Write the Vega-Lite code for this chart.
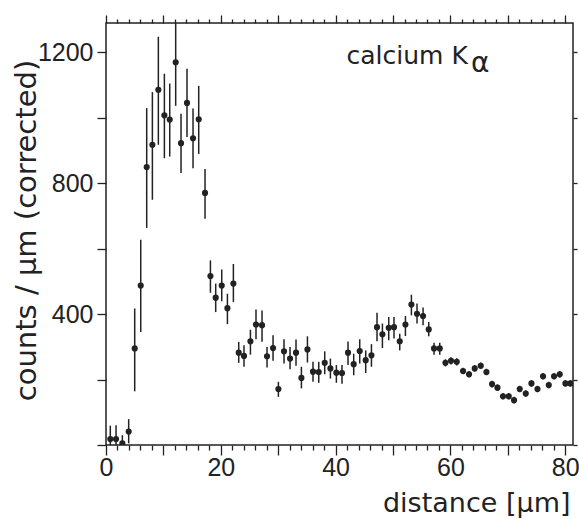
{
  "$schema": "https://vega.github.io/schema/vega-lite/v6.json",
  "width": 467,
  "height": 422,
  "autosize": {"type": "none"},
  "padding": {"left": 106, "top": 23, "right": 6, "bottom": 74},
  "background": "white",
  "config": {
    "view": {"stroke": "#222", "strokeWidth": 1.5},
    "axis": {"domain": false, "grid": false, "ticks": true, "tickColor": "#222", "tickWidth": 1.3, "labelColor": "#222", "titleColor": "#222", "labelFont": "Liberation Sans", "titleFont": "DejaVu Sans", "titleFontWeight": "normal"}
  },
  "data": {"values": [
    {"x": 0.75, "y": 18, "lo": 0, "hi": 59},
    {"x": 1.75, "y": 18, "lo": 0, "hi": 60},
    {"x": 2.85, "y": 5, "lo": 0, "hi": 30},
    {"x": 3.95, "y": 41, "lo": 5, "hi": 79},
    {"x": 5.0, "y": 295, "lo": 164, "hi": 417},
    {"x": 6.05, "y": 487, "lo": 345, "hi": 627},
    {"x": 7.09, "y": 849, "lo": 663, "hi": 1029},
    {"x": 8.08, "y": 917, "lo": 749, "hi": 1078},
    {"x": 9.12, "y": 1085, "lo": 917, "hi": 1247},
    {"x": 10.17, "y": 1007, "lo": 876, "hi": 1134},
    {"x": 11.1, "y": 994, "lo": 881, "hi": 1104},
    {"x": 12.14, "y": 1169, "lo": 1036, "hi": 1289},
    {"x": 13.07, "y": 922, "lo": 831, "hi": 1012},
    {"x": 14.11, "y": 1045, "lo": 941, "hi": 1149},
    {"x": 15.16, "y": 937, "lo": 845, "hi": 1028},
    {"x": 16.15, "y": 995, "lo": 889, "hi": 1097},
    {"x": 17.25, "y": 770, "lo": 691, "hi": 843},
    {"x": 18.19, "y": 516, "lo": 465, "hi": 564},
    {"x": 19.11, "y": 450, "lo": 406, "hi": 493},
    {"x": 20.16, "y": 487, "lo": 439, "hi": 536},
    {"x": 21.15, "y": 418, "lo": 369, "hi": 462},
    {"x": 22.19, "y": 493, "lo": 437, "hi": 553},
    {"x": 23.12, "y": 282, "lo": 251, "hi": 315},
    {"x": 24.04, "y": 272, "lo": 239, "hi": 305},
    {"x": 25.16, "y": 317, "lo": 276, "hi": 352},
    {"x": 26.13, "y": 368, "lo": 323, "hi": 414},
    {"x": 27.18, "y": 366, "lo": 315, "hi": 411},
    {"x": 28.05, "y": 271, "lo": 237, "hi": 299},
    {"x": 29.1, "y": 296, "lo": 257, "hi": 335},
    {"x": 30.03, "y": 171, "lo": 147, "hi": 193},
    {"x": 31.01, "y": 286, "lo": 249, "hi": 323},
    {"x": 32.06, "y": 264, "lo": 231, "hi": 299},
    {"x": 33.1, "y": 282, "lo": 242, "hi": 322},
    {"x": 34.04, "y": 205, "lo": 173, "hi": 239},
    {"x": 35.09, "y": 292, "lo": 252, "hi": 332},
    {"x": 36.06, "y": 224, "lo": 193, "hi": 254},
    {"x": 37.06, "y": 223, "lo": 190, "hi": 254},
    {"x": 38.1, "y": 251, "lo": 216, "hi": 286},
    {"x": 39.09, "y": 234, "lo": 203, "hi": 264},
    {"x": 40.13, "y": 221, "lo": 190, "hi": 244},
    {"x": 41.11, "y": 220, "lo": 187, "hi": 244},
    {"x": 42.16, "y": 282, "lo": 244, "hi": 316},
    {"x": 43.15, "y": 247, "lo": 213, "hi": 279},
    {"x": 44.2, "y": 287, "lo": 249, "hi": 323},
    {"x": 45.24, "y": 259, "lo": 220, "hi": 289},
    {"x": 46.24, "y": 274, "lo": 239, "hi": 308},
    {"x": 47.21, "y": 360, "lo": 317, "hi": 404},
    {"x": 48.15, "y": 338, "lo": 296, "hi": 371},
    {"x": 49.25, "y": 358, "lo": 320, "hi": 391},
    {"x": 50.17, "y": 360, "lo": 325, "hi": 391},
    {"x": 51.17, "y": 317, "lo": 289, "hi": 340},
    {"x": 52.16, "y": 368, "lo": 333, "hi": 394},
    {"x": 53.2, "y": 429, "lo": 396, "hi": 459},
    {"x": 54.18, "y": 401, "lo": 371, "hi": 432},
    {"x": 55.23, "y": 394, "lo": 366, "hi": 420},
    {"x": 56.22, "y": 353, "lo": 332, "hi": 376},
    {"x": 57.14, "y": 295, "lo": 276, "hi": 312},
    {"x": 58.14, "y": 295, "lo": 276, "hi": 312},
    {"x": 59.13, "y": 251, "lo": 240, "hi": 262},
    {"x": 60.1, "y": 257, "lo": 246, "hi": 268},
    {"x": 61.1, "y": 254, "lo": 243, "hi": 265},
    {"x": 62.2, "y": 226, "lo": 216, "hi": 236},
    {"x": 63.24, "y": 216, "lo": 206, "hi": 226},
    {"x": 64.23, "y": 234, "lo": 224, "hi": 244},
    {"x": 65.28, "y": 242, "lo": 232, "hi": 252},
    {"x": 66.27, "y": 223, "lo": 213, "hi": 233},
    {"x": 67.25, "y": 186, "lo": 176, "hi": 196},
    {"x": 68.19, "y": 175, "lo": 165, "hi": 185},
    {"x": 69.16, "y": 149, "lo": 139, "hi": 159},
    {"x": 70.16, "y": 149, "lo": 139, "hi": 159},
    {"x": 71.08, "y": 137, "lo": 127, "hi": 147},
    {"x": 72.07, "y": 171, "lo": 161, "hi": 181},
    {"x": 73.12, "y": 157, "lo": 147, "hi": 167},
    {"x": 74.11, "y": 188, "lo": 178, "hi": 198},
    {"x": 75.16, "y": 171, "lo": 161, "hi": 181},
    {"x": 76.13, "y": 210, "lo": 200, "hi": 220},
    {"x": 77.13, "y": 183, "lo": 173, "hi": 193},
    {"x": 78.05, "y": 210, "lo": 200, "hi": 220},
    {"x": 79.04, "y": 216, "lo": 206, "hi": 226},
    {"x": 80.03, "y": 188, "lo": 178, "hi": 198},
    {"x": 80.9, "y": 188, "lo": 178, "hi": 198}
  ]},
  "layer": [
    {
      "mark": {"type": "rule", "color": "#222", "strokeWidth": 1.5, "clip": true},
      "encoding": {
        "x": {
          "field": "x", "type": "quantitative",
          "scale": {"domain": [0, 81.35], "nice": false, "zero": false},
          "axis": {
            "orient": "bottom",
            "values": [0,2,4,6,8,10,12,14,16,18,20,22,24,26,28,30,32,34,36,38,40,42,44,46,48,50,52,54,56,58,60,62,64,66,68,70,72,74,76,78,80],
            "tickSize": {"condition": {"test": "datum.value % 10 === 0", "value": 10}, "value": 5},
            "labelExpr": "datum.value % 20 === 0 ? datum.label : ''",
            "labelFontSize": 25, "labelBaseline": "alphabetic", "labelPadding": 20, "labelFlush": false, "labelOverlap": false,
            "title": "distance [μm]", "titleFontSize": 27,
            "titleX": 464, "titleY": 66, "titleAlign": "right", "titleBaseline": "alphabetic"
          }
        },
        "y": {
          "field": "lo", "type": "quantitative",
          "scale": {"domain": [0, 1289], "nice": false},
          "axis": {
            "orient": "left",
            "values": [0, 200, 400, 600, 800, 1000, 1200],
            "format": "d",
            "tickSize": 9,
            "labelExpr": "datum.value % 400 === 0 && datum.value > 0 ? datum.label : ''",
            "labelFontSize": 25, "labelPadding": 4, "labelFlush": false, "labelOverlap": false,
            "title": "counts / μm  (corrected)", "titleFontSize": 29,
            "titleX": -71, "titleY": 207, "titleAngle": -90, "titleAlign": "center", "titleBaseline": "alphabetic"
          }
        },
        "y2": {"field": "hi"}
      }
    },
    {
      "mark": {"type": "point", "filled": true, "size": 38, "color": "#222", "opacity": 1, "clip": true},
      "encoding": {
        "x": {
          "field": "x", "type": "quantitative",
          "axis": {
            "orient": "top",
            "values": [0,2,4,6,8,10,12,14,16,18,20,22,24,26,28,30,32,34,36,38,40,42,44,46,48,50,52,54,56,58,60,62,64,66,68,70,72,74,76,78,80],
            "tickSize": {"condition": {"test": "datum.value % 10 === 0", "value": 8}, "value": 4},
            "labels": false, "title": null
          }
        },
        "y": {
          "field": "y", "type": "quantitative",
          "axis": {"orient": "right", "values": [0, 200, 400, 600, 800, 1000, 1200], "tickSize": 4, "labels": false, "title": null}
        }
      }
    },
    {
      "data": {"values": [{"label": "calcium K", "x": 41.9, "y": 1164}]},
      "mark": {"type": "text", "align": "left", "baseline": "alphabetic", "font": "DejaVu Sans", "fontSize": 25, "color": "#222"},
      "encoding": {
        "x": {"field": "x", "type": "quantitative", "axis": null},
        "y": {"field": "y", "type": "quantitative", "axis": null},
        "text": {"field": "label"}
      }
    },
    {
      "data": {"values": [{"label": "α", "x": 63.6, "y": 1140}]},
      "mark": {"type": "text", "align": "left", "baseline": "alphabetic", "font": "DejaVu Sans", "fontSize": 28, "color": "#222"},
      "encoding": {
        "x": {"field": "x", "type": "quantitative", "axis": null},
        "y": {"field": "y", "type": "quantitative", "axis": null},
        "text": {"field": "label"}
      }
    }
  ],
  "resolve": {"axis": {"x": "independent", "y": "independent"}}
}
